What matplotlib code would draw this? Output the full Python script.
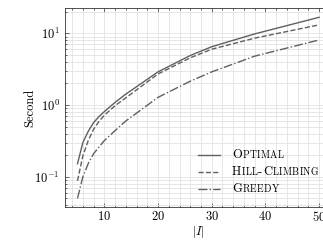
import matplotlib
matplotlib.use('Agg')
import matplotlib.pyplot as plt
from matplotlib.ticker import MultipleLocator
from matplotlib.offsetbox import AnchoredOffsetbox, HPacker, VPacker, TextArea, DrawingArea
from matplotlib.lines import Line2D

# data (|I| vs runtime in seconds)
sizes = [5, 6, 7, 8, 9, 10, 12, 14, 20, 26, 30, 38, 50]
optimal = [0.152, 0.30, 0.43, 0.57, 0.69, 0.81, 1.09, 1.42, 2.90, 4.90, 6.50, 9.80, 16.7]
hill_climbing = [0.088, 0.196, 0.32, 0.46, 0.59, 0.72, 0.98, 1.26, 2.71, 4.55, 6.00, 8.55, 13.1]
greedy = [0.050, 0.100, 0.153, 0.21, 0.26, 0.32, 0.44, 0.60, 1.28, 2.15, 2.90, 4.80, 8.07]

labels = ["Optimal", "Hill-Climbing", "Greedy"]
styles = ['-', '--', '-.']
LINE = '#606060'
FS = 9.0

plt.rcParams.update({
    'font.family': 'serif',
    'font.serif': ['cmr10'],
    'mathtext.fontset': 'cm',
    'axes.formatter.use_mathtext': True,
    'axes.unicode_minus': False,
    'font.size': FS,
})

fig = plt.figure(figsize=(3.23, 2.41), dpi=100)
ax = fig.add_axes([65.4 / 323, 34 / 241, 265.8 / 323, 199 / 241])

for ys, ls in zip([optimal, hill_climbing, greedy], styles):
    ax.plot(sizes, ys, ls, color=LINE, lw=1.0)

ax.set_yscale('log')
ax.set_xlim(2.75, 52.25)
ax.set_ylim(0.038, 22.5)
ax.xaxis.set_major_locator(MultipleLocator(10))
ax.xaxis.set_minor_locator(MultipleLocator(2))
ax.grid(True, which='both', color='#e2e2e2', lw=0.6)
ax.set_axisbelow(True)
ax.tick_params(which='both', direction='in', top=True, right=True, labelsize=FS,
               width=0.5, colors='#333333', labelcolor='black')
ax.tick_params(which='major', length=3)
ax.tick_params(axis='x', which='major', pad=2.5)
ax.tick_params(axis='y', which='major', pad=4)
ax.tick_params(which='minor', length=1.6)
for s in ax.spines.values():
    s.set_linewidth(0.6)
    s.set_color('#333333')

ax.set_xlabel(r'$|I|$', fontsize=FS, labelpad=0)
ax.set_ylabel('Second', fontsize=FS, labelpad=-1)


def smallcaps(word):
    # fake \textsc: capitals full size, lower case as smaller capitals
    parts = []
    for ch in word:
        big = ch.isupper() or not ch.isalpha()
        parts.append(TextArea(ch.upper(), textprops=dict(fontsize=FS if big else FS * 0.78)))
    return HPacker(children=parts, align='baseline', pad=0, sep=0.3)


rows = []
for lab, ls in zip(labels, styles):
    da = DrawingArea(16, 6, 0, 0)
    da.add_artist(Line2D([0, 16], [3, 3], ls=ls, color=LINE, lw=1.0))
    rows.append(HPacker(children=[da, smallcaps(lab)], align='center', pad=0, sep=8.5))
box = VPacker(children=rows, align='left', pad=0, sep=3.5)
leg = AnchoredOffsetbox(loc='center left', child=box, frameon=False, pad=0, borderpad=0,
                        bbox_to_anchor=(198 / 323, (241 - 172) / 241),
                        bbox_transform=fig.transFigure)
ax.add_artist(leg)

fig.savefig('out.png', dpi=100)
